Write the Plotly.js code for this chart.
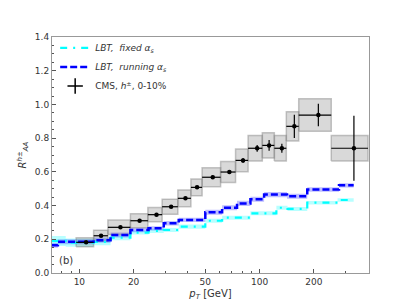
<!DOCTYPE html>
<html><head><meta charset="utf-8">
<script src="https://cdn.plot.ly/plotly-3.0.1.min.js"></script>
<style>html,body{margin:0;padding:0;background:#fff}#chart{width:411px;height:308px}</style>
</head><body><div id="chart"></div>
<script>
// CMS h± 0-10% data
const cmsPt   = [10.9, 13.2, 16.9, 21.6, 26.8, 32.3, 38.8, 45, 55, 68, 81, 97, 113, 133, 156, 212, 334];
const cmsLo   = [9.6, 12, 14.4, 19.2, 24, 28.8, 35.2, 41.6, 48, 60.8, 73.6, 86.4, 103.6, 120.8, 140.8, 165, 250];
const cmsHi   = [12, 14.4, 19.2, 24, 28.8, 35.2, 41.6, 48, 60.8, 73.6, 86.4, 103.6, 120.8, 140.8, 165, 250, 400];
const cmsRaa  = [0.182, 0.221, 0.271, 0.31, 0.346, 0.393, 0.443, 0.508, 0.568, 0.599, 0.668, 0.740, 0.757, 0.740, 0.870, 0.937, 0.74];
const cmsStat = [0.005, 0.005, 0.005, 0.005, 0.005, 0.006, 0.007, 0.009, 0.01, 0.012, 0.014, 0.02, 0.032, 0.027, 0.069, 0.067, 0.193];
const cmsSyst = [0.027, 0.033, 0.043, 0.042, 0.042, 0.045, 0.05, 0.05, 0.056, 0.062, 0.067, 0.076, 0.075, 0.076, 0.087, 0.096, 0.075];

// LBT running alpha_s
const runEdges = [7, 7.6, 12, 14.9, 19.2, 24.2, 29.4, 35.6, 50, 62, 75, 89, 106, 142, 184, 276, 333];
const runVals  = [0.165, 0.185, 0.195, 0.225, 0.255, 0.265, 0.295, 0.315, 0.36, 0.387, 0.413, 0.437, 0.465, 0.455, 0.495, 0.52];
const runErr   = [0.015, 0.015, 0.015, 0.015, 0.013, 0.013, 0.013, 0.013, 0.015, 0.015, 0.015, 0.015, 0.015, 0.015, 0.013, 0.013];

// LBT fixed alpha_s
const fixEdges = [7, 8.4, 12, 14.9, 19.2, 24.2, 29.4, 35.6, 50, 62, 89, 124, 143, 184, 271, 333];
const fixVals  = [0.19, 0.18, 0.185, 0.21, 0.24, 0.25, 0.255, 0.275, 0.31, 0.328, 0.354, 0.387, 0.38, 0.417, 0.433];
const fixErr   = [0.03, 0.025, 0.02, 0.015, 0.012, 0.012, 0.012, 0.012, 0.012, 0.012, 0.012, 0.012, 0.012, 0.01, 0.01];

function stepLine(edges, vals){
  const x=[], y=[];
  for(let i=0;i<vals.length;i++){ x.push(edges[i], edges[i+1]); y.push(vals[i], vals[i]); }
  return {x, y};
}
function stepBand(edges, vals, err){
  const x=[], y=[];
  for(let i=0;i<vals.length;i++){ x.push(edges[i], edges[i+1]); y.push(vals[i]+err[i], vals[i]+err[i]); }
  for(let i=vals.length-1;i>=0;i--){ x.push(edges[i+1], edges[i]); y.push(vals[i]-err[i], vals[i]-err[i]); }
  x.push(x[0]); y.push(y[0]);
  return {x, y};
}

const traces = [];
const fb = stepBand(fixEdges, fixVals, fixErr);
traces.push({x:fb.x, y:fb.y, mode:'lines', fill:'toself', fillcolor:'rgba(0,255,255,0.28)', line:{width:0}, showlegend:false, hoverinfo:'skip'});
const rb = stepBand(runEdges, runVals, runErr);
traces.push({x:rb.x, y:rb.y, mode:'lines', fill:'toself', fillcolor:'rgba(0,0,255,0.25)', line:{width:0}, showlegend:false, hoverinfo:'skip'});

// CMS systematic boxes
for(let i=0;i<cmsPt.length;i++){
  traces.push({x:[cmsLo[i],cmsHi[i],cmsHi[i],cmsLo[i],cmsLo[i]],
    y:[cmsRaa[i]-cmsSyst[i],cmsRaa[i]-cmsSyst[i],cmsRaa[i]+cmsSyst[i],cmsRaa[i]+cmsSyst[i],cmsRaa[i]-cmsSyst[i]],
    mode:'lines', fill:'toself', fillcolor:'rgba(128,128,128,0.3)', line:{color:'rgba(128,128,128,0.45)', width:1.5},
    showlegend:false, hoverinfo:'skip'});
}

const fl = stepLine(fixEdges, fixVals);
traces.push({x:fl.x, y:fl.y, mode:'lines', name:'<i>LBT,  fixed α<sub>s</sub></i>',
  line:{color:'#00ffff', width:2.2, dash:'7px,6px,2px,6px'}, legendrank:1});
const rl = stepLine(runEdges, runVals);
traces.push({x:rl.x, y:rl.y, mode:'lines', name:'<i>LBT,  running α<sub>s</sub></i>',
  line:{color:'#0000ff', width:2.5, dash:'7px,3px'}, legendrank:2});

traces.push({x:cmsPt, y:cmsRaa, mode:'markers', showlegend:false,
  marker:{color:'black', size:4.5},
  error_y:{type:'data', array:cmsStat, color:'black', thickness:1.2, width:0},
  error_x:{type:'data', symmetric:false, array:cmsHi.map((h,i)=>h-cmsPt[i]), arrayminus:cmsPt.map((p,i)=>p-cmsLo[i]), color:'black', thickness:1.2, width:0}});
// legend entry for CMS (cross-shaped symbol like errorbar marker)
traces.push({x:[null], y:[null], mode:'markers', name:'CMS, <i>h</i><sup>±</sup>, 0-10%',
  marker:{color:'black', symbol:'cross-thin', size:11, line:{color:'black', width:1.5}}, legendrank:3});

const layout = {
  width:411, height:308,
  margin:{l:52, r:42, t:37, b:35},
  paper_bgcolor:'white', plot_bgcolor:'white',
  font:{family:'DejaVu Sans', size:9, color:'#333'},
  showlegend:true,
  legend:{x:0.01, y:1.015, xanchor:'left', yanchor:'top', bgcolor:'rgba(0,0,0,0)', font:{size:9, color:'#333'}, itemwidth:30, tracegroupgap:0},
  xaxis:{type:'log', range:[Math.log10(7.05), Math.log10(405)],
    tickvals:[10,20,50,100,200], ticktext:['10','20','50','100','200'],
    ticks:'inside', ticklen:4, tickcolor:'#555', showline:true, linecolor:'#999', linewidth:1, mirror:true,
    showgrid:false, zeroline:false,
    minor:{tickvals:[8,9,30,40,60,70,80,90,300,400], ticks:'inside', ticklen:2, tickcolor:'#555', showgrid:false},
    title:{text:'<i>p</i><sub><i>T</i></sub> [GeV]', font:{size:10, color:'#333'}, standoff:4}},
  yaxis:{range:[0,1.4], tickvals:[0,0.2,0.4,0.6,0.8,1.0,1.2,1.4], ticktext:['0.0','0.2','0.4','0.6','0.8','1.0','1.2','1.4'],
    ticks:'inside', ticklen:4, tickcolor:'#555', showline:true, linecolor:'#999', linewidth:1, mirror:true,
    showgrid:false, zeroline:false,
    minor:{dtick:0.05, ticks:'inside', ticklen:2, tickcolor:'#555', showgrid:false},
    title:{text:'<i>R</i><sup><i>h</i>±</sup><sub><i>AA</i></sub>', font:{size:10, color:'#333'}, standoff:6}},
  annotations:[{xref:'paper', yref:'paper', x:0.016, y:0.055, xanchor:'left', yanchor:'middle', text:'(b)', showarrow:false, font:{size:10, color:'#333'}}]
};
Plotly.newPlot('chart', traces, layout, {staticPlot:true, displayModeBar:false});
</script></body></html>
